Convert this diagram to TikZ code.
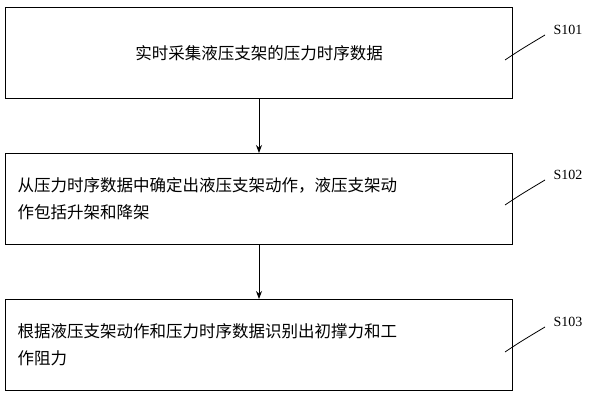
\documentclass[tikz,border=0pt]{standalone}
\usepackage{fontspec}
\usetikzlibrary{arrows.meta}
\newfontfamily\cjk{Noto Sans CJK SC}
\setmainfont{Liberation Serif}
\begin{document}
\begin{tikzpicture}[x=1pt,y=-1pt,
  boxs/.style={draw,line width=1pt,minimum width=507pt,minimum height=91pt,anchor=north west,inner sep=0},
  txt/.style={font=\cjk\fontsize{16.5}{27}\selectfont,align=left,text width=490pt},
  lab/.style={font=\fontsize{14}{16}\selectfont},
  arr/.style={-{Stealth[length=8pt,width=6pt]},line width=1pt}]
\useasboundingbox (0,0) rectangle (600,404);
\node[boxs] (b1) at (5,7) {};
\node[boxs] (b2) at (5,153) {};
\node[boxs] (b3) at (5,299) {};
\node[font=\cjk\fontsize{16.5}{27}\selectfont] (t1) at (b1.center) {实时采集液压支架的压力时序数据};
\node[txt,anchor=west] (t2) at ([xshift=9pt]b2.west) {从压力时序数据中确定出液压支架动作，液压支架动\\作包括升架和降架};
\node[txt,anchor=west] (t3) at ([xshift=9pt]b3.west) {根据液压支架动作和压力时序数据识别出初撑力和工\\作阻力};
\draw[arr] (b1.south) -- (b2.north);
\draw[arr] (b2.south) -- (b3.north);
\node[lab] (l1) at (568,30) {S101};
\node[lab] (l2) at (568,175) {S102};
\node[lab] (l3) at (568,322) {S103};
\draw[line width=0.8pt] (505,60) .. controls (520,50) .. (545,35);
\draw[line width=0.8pt] (505,205) .. controls (520,195) .. (545,180);
\draw[line width=0.8pt] (505,352) .. controls (520,342) .. (545,327);
\end{tikzpicture}
\end{document}
